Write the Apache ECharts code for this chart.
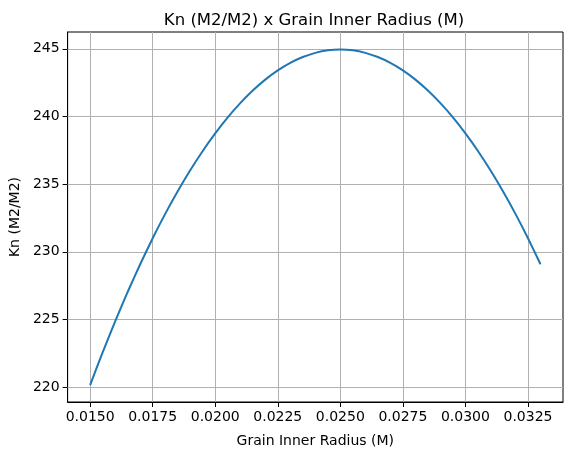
<!DOCTYPE html>
<html>
<head>
<meta charset="utf-8">
<script src="https://cdn.jsdelivr.net/npm/echarts@6/dist/echarts.min.js"></script>
<style>
  html, body { margin: 0; padding: 0; background: #fff; }
  #chart_box { width: 571px; height: 455px; }
</style>
</head>
<body>
<div id="chart_box"></div>
<script>
// data
var radius = [0.0150, 0.0155, 0.0160, 0.0165, 0.0170, 0.0175, 0.0180, 0.0185, 0.0190, 0.0195,
              0.0200, 0.0205, 0.0210, 0.0215, 0.0220, 0.0225, 0.0230, 0.0235, 0.0240, 0.0245,
              0.0250, 0.0255, 0.0260, 0.0265, 0.0270, 0.0275, 0.0280, 0.0285, 0.0290, 0.0295,
              0.0300, 0.0305, 0.0310, 0.0315, 0.0320, 0.0325, 0.0330];
var kn = [220.15, 222.57, 224.86, 227.03, 229.08, 231.00, 232.80, 234.47, 236.02, 237.45,
          238.75, 239.93, 240.98, 241.91, 242.72, 243.40, 243.96, 244.39, 244.70, 244.89,
          244.95, 244.89, 244.70, 244.39, 243.96, 243.40, 242.72, 241.91, 240.98, 239.93,
          238.75, 237.45, 236.02, 234.47, 232.80, 231.00, 229.08];
var xTicks = [0.0150, 0.0175, 0.0200, 0.0225, 0.0250, 0.0275, 0.0300, 0.0325];
var yTicks = [220, 225, 230, 235, 240, 245];
var xMin = 0.0141, xMax = 0.0339;
var yMin = 218.9, yMax = 246.24;

var points = radius.map(function (r, i) { return [r, kn[i]]; });

var mychart = echarts.init(document.getElementById('chart_box'));
var font = 'DejaVu Sans';

// grid lines at tick positions, as start/end coordinate pairs
var gridLines = xTicks.map(function (t) { return [{ coord: [t, yMin] }, { coord: [t, yMax] }]; })
    .concat(yTicks.map(function (t) { return [{ coord: [xMin, t] }, { coord: [xMax, t] }]; }));

var option = {
    animation: false,
    title: {
        text: 'Kn (M2/M2) x Grain Inner Radius (M)',
        left: 309, top: 7, textAlign: 'center',
        textStyle: { fontFamily: font, fontSize: 16.5, fontWeight: 'normal', color: '#000' }
    },
    grid: {
        left: 66, right: 8, top: 32, bottom: 53,
        show: true, borderColor: '#000', borderWidth: 1
    },
    xAxis: {
        type: 'value',
        min: xMin, max: xMax,
        name: 'Grain Inner Radius (M)',
        nameLocation: 'middle', nameGap: 32,
        nameTextStyle: { fontFamily: font, fontSize: 14, color: '#000' },
        axisLine: { show: true, onZero: false, lineStyle: { color: '#000' } },
        axisTick: { show: true, length: 5, customValues: xTicks, lineStyle: { color: '#000' } },
        axisLabel: {
            customValues: xTicks, margin: 8,
            fontFamily: font, fontSize: 14, color: '#000',
            formatter: function (v) { return v.toFixed(4); }
        },
        splitLine: { show: false }
    },
    yAxis: {
        type: 'value',
        min: yMin, max: yMax,
        name: 'Kn (M2/M2)',
        nameLocation: 'middle', nameGap: 43,
        nameTextStyle: { fontFamily: font, fontSize: 14, color: '#000' },
        axisLine: { show: true, onZero: false, lineStyle: { color: '#000' } },
        axisTick: { show: true, length: 5, customValues: yTicks, lineStyle: { color: '#000' } },
        axisLabel: {
            customValues: yTicks, margin: 8,
            fontFamily: font, fontSize: 14, color: '#000'
        },
        splitLine: { show: false }
    },
    series: [
        {
            name: 'Kn',
            type: 'line',
            data: points,
            showSymbol: false,
            smooth: 0.2,
            lineStyle: { color: '#1f77b4', width: 2 },
            z: 5,
            markLine: {
                symbol: 'none',
                silent: true,
                z: 1,
                animation: false,
                label: { show: false },
                emphasis: { disabled: true },
                lineStyle: { color: '#b0b0b0', width: 1, type: 'solid' },
                data: gridLines
            }
        }
    ]
};

mychart.setOption(option);
</script>
</body>
</html>
